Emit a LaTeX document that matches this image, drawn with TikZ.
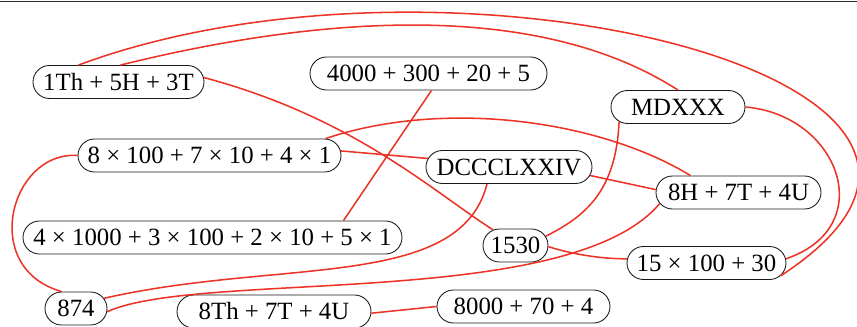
\documentclass[tikz,border=0pt]{standalone}
\usepackage{fontspec}
\setmainfont{Liberation Serif}
\usetikzlibrary{shapes.misc, calc, positioning}
\definecolor{linkred}{HTML}{EC3326}
\definecolor{rulegray}{HTML}{2A2A2A}
\tikzset{
  % scrittura di un numero in una capsula
  pill/.style={draw=black!90, rounded rectangle, line width=0.65pt,
    minimum height=24.75pt, inner xsep=0pt, inner ysep=0pt,
    font=\fontsize{18.6}{22}\selectfont},
  % collegamento tra due scritture dello stesso numero
  link/.style={linkred, line width=1.15pt},
}

\begin{document}
\begin{tikzpicture}[x=0.75pt, y=-0.75pt]
  \useasboundingbox (0,0) rectangle (857,327);
  \draw[rulegray, line width=1.2pt] (0,1.5) -- (857,1.5);
  \node[pill, minimum width=128.25pt] (t1) at (118.5,82) {\makebox[0pt]{1Th + 5H + 3T}};
  \node[pill, minimum width=177.75pt] (d1) at (428.5,73.5) {\makebox[0pt]{4000 + 300 + 20 + 5}};
  \node[pill, minimum width=100.5pt] (r1) at (678,107) {\makebox[0pt]{MDXXX}};
  \node[pill, minimum width=197.25pt] (p2) at (209.5,155.5) {\makebox[0pt]{8 × 100 + 7 × 10 + 4 × 1}};
  \node[pill, minimum width=124.5pt] (r2) at (509,167) {\makebox[0pt]{DCCCLXXIV}};
  \node[pill, minimum width=123.75pt] (u2) at (738.5,192.5) {\makebox[0pt]{8H + 7T + 4U}};
  \node[pill, minimum width=284.25pt] (p1) at (212.5,237.5) {\makebox[0pt]{4 × 1000 + 3 × 100 + 2 × 10 + 5 × 1}};
  \node[pill, minimum width=48.75pt] (n1) at (515.5,245.5) {\makebox[0pt]{1530}};
  \node[pill, minimum width=119.25pt] (m1) at (706.5,263) {\makebox[0pt]{15 × 100 + 30}};
  \node[pill, minimum width=46.5pt] (n2) at (76,308.5) {\makebox[0pt]{874}};
  \node[pill, minimum width=145.5pt] (t2) at (274,311.5) {\makebox[0pt]{8Th + 7T + 4U}};
  \node[pill, minimum width=129.75pt] (d2) at (523.5,306.5) {\makebox[0pt]{8000 + 70 + 4}};
  \draw[link] ($(t1.north)+(-40,0)$) .. controls +(371,-138) and +(300,-195) .. (m1.-10);
  \draw[link] ($(t1.north)+(2,0)$) .. controls +(194,-48) and +(-143,-92) .. (r1.north);
  \draw[link] (t1.3) .. controls +(150,40) and +(-60,-38) .. (n1.145);
  \draw[link] ($(d1.south)+(3,0)$) -- ($(p1.north)+(131,0)$);
  \draw[link] (p2.2) -- (r2.174);
  \draw[link] (r2.-6) -- (u2.178);
  \draw[link] ($(p2.north)+(116,0)$) .. controls +(120,-40) and +(-90,-55) .. ($(u2.north)+(-48,0)$);
  \draw[link] (p2.west) .. controls +(-67,-5) and +(-83,-23) .. (n2.130);
  \draw[link] ($(r2.south)+(-22,0)$) .. controls +(-27,107) and +(175,-40) .. (n2.20);
  \draw[link] (u2.-172) .. controls +(-90,107) and +(92,-42) .. (n2.-6);
  \draw[link] (r1.-166) .. controls +(-3,69) and +(40,-20) .. (n1.17);
  \draw[link] (n1.-2) .. controls +(25,8) and +(-25,0) .. (m1.177);
  \draw[link] (r1.east) .. controls +(94,8) and +(94,-32) .. (m1.3);
  \draw[link] (t2.-1) -- (d2.west);
\end{tikzpicture}
\end{document}
